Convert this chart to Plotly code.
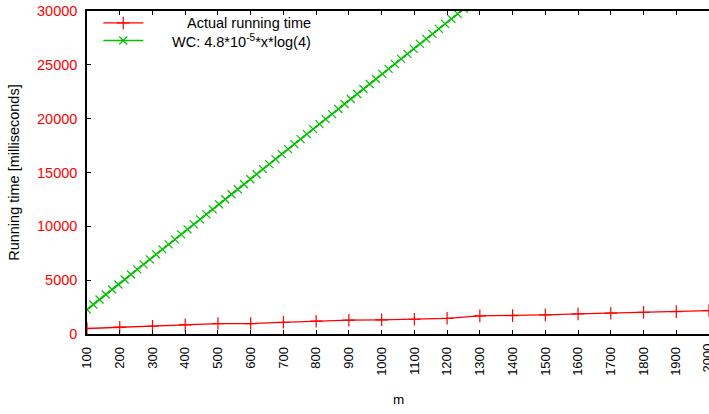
import plotly.graph_objects as go

# ---- data ----
m_actual = [100, 200, 300, 400, 500, 600, 700, 800, 900, 1000,
            1100, 1200, 1300, 1400, 1500, 1600, 1700, 1800, 1900, 2000]
t_actual = [510, 630, 720, 850, 970, 970, 1090, 1190, 1280, 1320,
            1370, 1460, 1680, 1710, 1780, 1870, 1930, 2020, 2080, 2180]

m_wc = [100, 119.19, 138.38, 157.58, 176.77, 195.96, 215.15, 234.34, 253.54, 272.73,
        291.92, 311.11, 330.30, 349.49, 368.69, 387.88, 407.07, 426.26, 445.45, 464.65,
        483.84, 503.03, 522.22, 541.41, 560.61, 579.80, 598.99, 618.18, 637.37, 656.57,
        675.76, 694.95, 714.14, 733.33, 752.53, 771.72, 790.91, 810.10, 829.29, 848.48,
        867.68, 886.87, 906.06, 925.25, 944.44, 963.64, 982.83, 1002.02, 1021.21, 1040.40,
        1059.60, 1078.79, 1097.98, 1117.17, 1136.36, 1155.56, 1174.75, 1193.94, 1213.13, 1232.32,
        1251.52, 1270.71]
t_wc = [2270, 2736, 3201, 3667, 4132, 4598, 5064, 5529, 5995, 6460,
        6926, 7392, 7857, 8323, 8788, 9254, 9720, 10185, 10651, 11116,
        11582, 12048, 12513, 12979, 13444, 13910, 14376, 14841, 15307, 15772,
        16238, 16704, 17169, 17635, 18100, 18566, 19032, 19497, 19963, 20428,
        20894, 21360, 21825, 22291, 22756, 23222, 23688, 24153, 24619, 25084,
        25550, 26016, 26481, 26947, 27412, 27878, 28344, 28809, 29275, 29740,
        30206, 30672]

x_ticks = list(range(100, 2001, 100))
y_ticks = list(range(0, 30001, 5000))

series_names = ["Actual running time", "WC: 4.8*10<sup>-5</sup>*x*log(4)"]
RED = "#ff0000"
GREEN = "#00c000"
FONT = "Liberation Sans, Arial, sans-serif"

fig = go.Figure()
fig.add_trace(go.Scatter(
    x=m_actual, y=t_actual, mode="lines+markers", showlegend=False,
    line=dict(color=RED, width=1.3),
    marker=dict(symbol="cross-thin", size=9, line=dict(color=RED, width=1.2)),
))
fig.add_trace(go.Scatter(
    x=m_wc, y=t_wc, mode="lines+markers", showlegend=False,
    line=dict(color=GREEN, width=1.5),
    marker=dict(symbol="x-thin", size=8, line=dict(color=GREEN, width=1.2)),
))

# ---- manual legend (gnuplot style, right-justified text) ----
leg_rows = [0.963, 0.9086]
leg_styles = [(RED, "cross-thin", 9), (GREEN, "x-thin", 8)]
for (col, sym, sz), yy, name in zip(leg_styles, leg_rows, series_names):
    fig.add_trace(go.Scatter(
        x=[0.0262, 0.0905], y=[yy, yy], xaxis="x2", yaxis="y2",
        mode="lines", line=dict(color=col, width=1.3), showlegend=False, hoverinfo="skip"))
    fig.add_trace(go.Scatter(
        x=[0.0583], y=[yy], xaxis="x2", yaxis="y2", mode="markers",
        marker=dict(symbol=sym, size=sz, line=dict(color=col, width=1.2)),
        showlegend=False, hoverinfo="skip"))
    fig.add_annotation(x=0.363, y=yy, xref="x2", yref="y2", text=name,
                       showarrow=False, xanchor="right", yanchor="middle",
                       font=dict(family=FONT, size=14.5, color="#000000"))

fig.update_layout(
    width=709, height=414,
    margin=dict(l=87, r=0, t=11, b=80),
    paper_bgcolor="white", plot_bgcolor="white",
    font=dict(family=FONT, size=14, color="#000000"),
    xaxis=dict(range=[100, 2000], tickvals=x_ticks, ticktext=[str(v) for v in x_ticks],
               tickangle=-90, ticks="inside", ticklen=4, tickcolor="#000000",
               showline=True, linecolor="#000000", linewidth=1.5, mirror="ticks",
               showgrid=False, zeroline=False,
               tickfont=dict(family=FONT, size=13, color="#000000"),
               ticklabelstandoff=6),
    yaxis=dict(range=[0, 30000], tickvals=y_ticks, ticktext=[str(v) for v in y_ticks],
               ticks="inside", ticklen=4, tickcolor="#000000",
               showline=True, linecolor="#000000", linewidth=1.5, mirror=False,
               showgrid=False, zeroline=False,
               tickfont=dict(family=FONT, size=14.5, color=RED),
               ticklabelstandoff=5),
    xaxis2=dict(range=[0, 1], overlaying="x", visible=False, fixedrange=True),
    yaxis2=dict(range=[0, 1], overlaying="y", visible=False, fixedrange=True),
    showlegend=False,
)

# last tick label (plotly hides it at the edge; reference shows it clipped)
fig.add_annotation(x=x_ticks[-1], y=0, xref="x", yref="y", text=str(x_ticks[-1]),
                   showarrow=False, textangle=-90, xanchor="center", yanchor="top",
                   xshift=-2, yshift=-8,
                   font=dict(family=FONT, size=13, color="#000000"))

fig.add_annotation(x=0.5, y=-0.203, xref="paper", yref="paper", text="m",
                   showarrow=False, xanchor="center", yanchor="middle",
                   font=dict(family=FONT, size=13.5, color="#000000"))
fig.add_annotation(x=(13.3 - 87) / 622, y=0.5, xref="paper", yref="paper",
                   text="Running time [milliseconds]", showarrow=False,
                   textangle=-90, xanchor="center", yanchor="middle",
                   font=dict(family=FONT, size=14.5, color="#000000"))

fig.write_html("out.html")
